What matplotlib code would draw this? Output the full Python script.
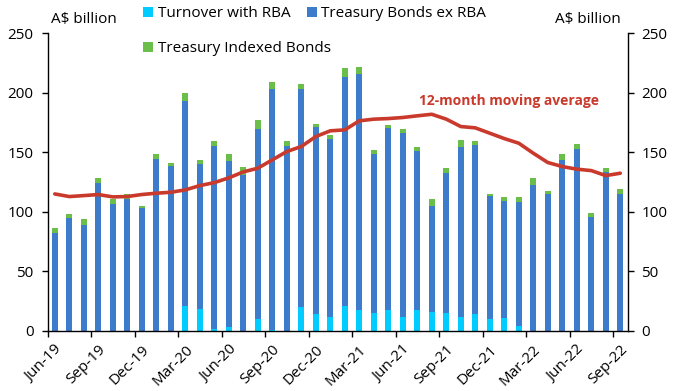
import numpy as np
import matplotlib
matplotlib.use('Agg')
import matplotlib.pyplot as plt

# data (A$ billion), monthly Jun-19 .. Sep-22
months = ['Jun-19', 'Jul-19', 'Aug-19', 'Sep-19', 'Oct-19', 'Nov-19', 'Dec-19', 'Jan-20',
          'Feb-20', 'Mar-20', 'Apr-20', 'May-20', 'Jun-20', 'Jul-20', 'Aug-20', 'Sep-20',
          'Oct-20', 'Nov-20', 'Dec-20', 'Jan-21', 'Feb-21', 'Mar-21', 'Apr-21', 'May-21',
          'Jun-21', 'Jul-21', 'Aug-21', 'Sep-21', 'Oct-21', 'Nov-21', 'Dec-21', 'Jan-22',
          'Feb-22', 'Mar-22', 'Apr-22', 'May-22', 'Jun-22', 'Jul-22', 'Aug-22', 'Sep-22']

# cumulative tops
rba_top = [0, 0, 0, 0, 0, 0, 0, 0, 0, 21.3, 18.5, 1.7, 3.6, 0, 10.1, 1.1,
           0, 20.2, 14.3, 11.8, 21.0, 17.6, 15.1, 17.6, 11.8, 17.6, 16.0, 15.1,
           11.8, 14.3, 10.1, 10.9, 4.2, 0, 0, 0, 0, 0, 0, 0]
bonds_top = [82.4, 95.0, 89.1, 124.4, 106.7, 110.9, 103.4, 144.5, 138.9, 193.3, 140.3,
             155.5, 142.9, 131.1, 169.7, 203.4, 155.5, 203.4, 171.4, 161.3, 213.4, 216.0,
             148.7, 170.6, 166.4, 151.3, 105.0, 132.8, 154.6, 156.3, 113.4, 109.2, 108.4,
             122.7, 115.1, 143.7, 152.9, 95.8, 133.6, 115.1]
total_top = [86.6, 98.3, 94.1, 128.6, 110.9, 115.1, 105.0, 148.7, 141.2, 200.0, 143.7,
             159.7, 148.7, 137.8, 177.3, 209.2, 159.7, 207.6, 173.9, 164.7, 221.0, 221.8,
             152.1, 173.1, 169.7, 154.6, 110.9, 137.0, 160.5, 159.7, 115.1, 112.6, 112.6,
             128.6, 117.6, 148.7, 157.1, 99.2, 137.0, 119.3]
moving_avg = [115.1, 112.9, 113.7, 114.6, 112.6, 112.9, 114.6, 115.7, 116.5, 118.5,
              122.1, 124.6, 128.6, 133.6, 136.7, 143.7, 150.7, 154.9, 163.3, 168.1,
              168.9, 176.5, 177.9, 178.4, 179.3, 180.7, 182.0, 177.9, 171.7, 170.6,
              166.1, 161.6, 157.7, 149.3, 141.5, 138.1, 135.9, 134.7, 130.5, 132.5]

rba = np.array(rba_top)
bonds = np.array(bonds_top) - rba
indexed = np.array(total_top) - np.array(bonds_top)

plt.rcParams['font.family'] = ['Open Sans', 'DejaVu Sans']
plt.rcParams['font.size'] = 10

c_rba = '#00CCFF'
c_bonds = '#3D7CCA'
c_idx = '#6BBE4A'
c_avg = '#C93A2C'

fig = plt.figure(figsize=(6.76, 3.91), dpi=100)
ax = fig.add_axes([0.0703, 0.1535, 0.858, 0.7613])

x = np.arange(len(months))
w = 0.42
b1 = ax.bar(x, rba, w, color=c_rba, label='Turnover with RBA')
b2 = ax.bar(x, bonds, w, bottom=rba, color=c_bonds, label='Treasury Bonds ex RBA')
b3 = ax.bar(x, indexed, w, bottom=rba + bonds, color=c_idx, label='Treasury Indexed Bonds')
ax.plot(x, moving_avg, color=c_avg, lw=2.6, solid_capstyle='round', solid_joinstyle='round')

ax.text(25.15, 193, '12-month moving average', color=c_avg, fontweight='bold',
        fontsize=10, ha='left', va='center')

ax.set_xlim(-0.5, len(months) - 0.5)
ax.set_ylim(0, 250)
ax.set_yticks(np.arange(0, 251, 50))
ax.tick_params(axis='y', which='both', left=True, right=True, labelleft=True,
               labelright=True, direction='out', length=4, width=1, labelsize=11, pad=6)

# ticks between categories, labels every third month
ax.set_xticks(np.arange(-0.5, len(months), 3))
ax.set_xticklabels([])
ax.set_xticks(x[::3], minor=True)
ax.set_xticklabels(months[::3], minor=True, rotation=45, ha='right',
                   rotation_mode='anchor', fontsize=11)
ax.tick_params(axis='x', which='major', direction='out', length=4, width=1)
ax.tick_params(axis='x', which='minor', length=0, pad=8)

ax.spines['top'].set_visible(False)
for s in ['left', 'right', 'bottom']:
    ax.spines[s].set_linewidth(1)

fig.text(51 / 676, 1 - 20 / 391, 'A$ billion', fontsize=11, ha='left', va='center')
fig.text(621 / 676, 1 - 20 / 391, 'A$ billion', fontsize=11, ha='right', va='center')

leg1 = fig.legend(handles=[b1, b2], loc='upper left', ncol=2, frameon=False,
                  bbox_to_anchor=(143 / 676, 1 - 6 / 391), fontsize=11,
                  handlelength=0.65, handleheight=0.65, handletextpad=0.3,
                  columnspacing=1.1, borderpad=0, borderaxespad=0)
leg2 = fig.legend(handles=[b3], loc='upper left', frameon=False,
                  bbox_to_anchor=(143 / 676, 1 - 41 / 391), fontsize=11,
                  handlelength=0.65, handleheight=0.65, handletextpad=0.3,
                  borderpad=0, borderaxespad=0)

fig.savefig('out.png', dpi=100)
